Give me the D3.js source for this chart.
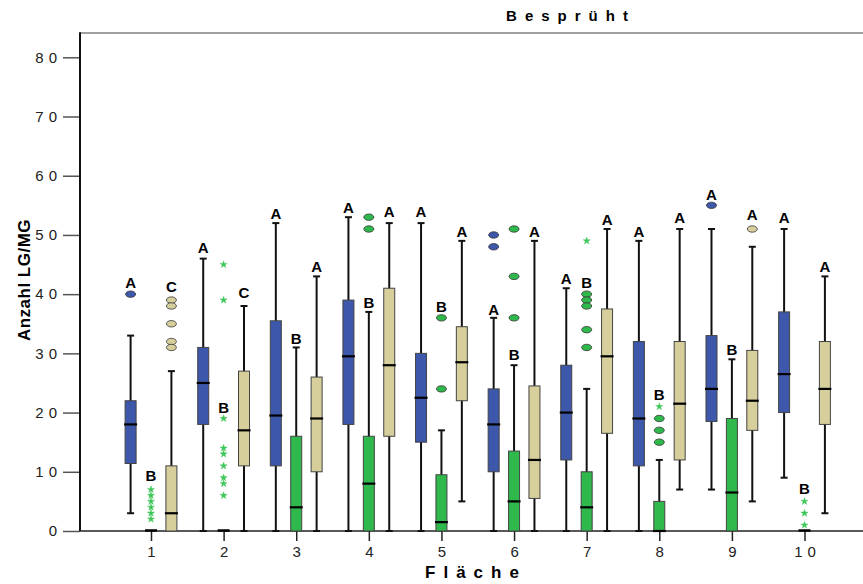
<!DOCTYPE html>
<html><head><meta charset="utf-8">
<script src="https://cdn.jsdelivr.net/npm/d3@7"></script>
<style>
html,body{margin:0;padding:0;background:#fff;}
svg{display:block;font-family:"Liberation Sans",Arial,sans-serif;}
</style></head>
<body><svg id="c" width="863" height="584"></svg>
<script>
// ---------- data ----------
const categories = ["1","2","3","4","5","6","7","8","9","10"];
const yTicks = [0,10,20,30,40,50,60,70,80];
const title = "Besprüht";
const xTitle = "Fläche";
const yTitle = "Anzahl LG/MG";
const seriesNames = ["blau","grün","beige"];
const seriesColors = ["#3d57aa","#2fb84b","#d6cf9b"];

// [lower whisker, Q1, median, Q3, upper whisker]
const blueStats = [
  [3,11.4,18,22,33],[0,18,25,31,46],[0,11,19.5,35.5,52],[0,18,29.5,39,53],[0,15,22.5,30,52],
  [0,10,18,24,36],[0,12,20,28,41],[0,11,19,32,49],[7,18.5,24,33,51],[9,20,26.5,37,51]];
const greenStats = [
  [0,0,0,0,0],[0,0,0,0,0],[0,0,4,16,31],[0,0,8,16,37],[0,0,1.5,9.5,17],
  [0,0,5,13.5,28],[0,0,4,10,24],[0,0,0,5,12],[0,0,6.5,19,29],[0,0,0,0,0]];
const tanStats = [
  [0,0,3,11,27],[0,11,17,27,38],[0,10,19,26,43],[0,16,28,41,52],[5,22,28.5,34.5,49],
  [0,5.5,12,24.5,49],[0,16.5,29.5,37.5,51],[7,12,21.5,32,51],[5,17,22,30.5,48],[3,18,24,32,43]];

// outliers (circles) and extremes (stars)
const blueOutliers  = [[40],[],[],[],[],[50,48],[],[],[55],[]];
const greenOutliers = [[],[],[],[53,51],[36,24],[51,43,36],[40,39,38,34,31],[19,17,15],[],[]];
const tanOutliers   = [[39,38,35,32,31],[],[],[],[],[],[],[],[51],[]];
const blueExtremes  = [[],[],[],[],[],[],[],[],[],[]];
const greenExtremes = [[7,6,5,4,3,2],[45,39,19,14,13,11,9,8,6],[],[],[],[],[49],[21],[],[5,3,1]];
const tanExtremes   = [[],[],[],[],[],[],[],[],[],[]];

// significance letters and the value they sit at
const blueLetters  = ["A","A","A","A","A","A","A","A","A","A"];
const greenLetters = ["B","B","B","B","B","B","B","B","B","B"];
const tanLetters   = ["C","C","A","A","A","A","A","A","A","A"];
const blueLetterAt  = [41,47,52.7,53.7,53,36.5,41.7,49.7,55.9,52];
const greenLetterAt = [8.5,20,31.6,37.7,37,28.9,41,22.1,29.7,6.2];
const tanLetterAt   = [40.4,39.3,43.8,53,49.7,49.7,51.7,52,52.5,43.8];

// ---------- build ----------
const statsBySeries = [blueStats, greenStats, tanStats];
const outBySeries = [blueOutliers, greenOutliers, tanOutliers];
const extBySeries = [blueExtremes, greenExtremes, tanExtremes];
const letBySeries = [blueLetters, greenLetters, tanLetters];
const letAtBySeries = [blueLetterAt, greenLetterAt, tanLetterAt];

const svg = d3.select("#c");
const x = d3.scalePoint().domain(categories).range([151, 804.5]);
const xs = d3.scalePoint().domain(seriesNames).range([-20.4, 20.4]);
const y = d3.scaleLinear().domain([0, 80]).range([531, 57.3]);
const yTop = y.invert(33);
const boxW = 11, capW = 7;

// frame top line
svg.append("line").attr("x1", 80).attr("x2", 863).attr("y1", y(yTop)).attr("y2", y(yTop))
  .attr("stroke", "#808080").attr("stroke-width", 1.5);

// y axis
const yAxis = svg.append("g").attr("transform", "translate(80,0)")
  .call(d3.axisLeft(y).tickValues(yTicks).tickSize(17).tickPadding(6).tickFormat(d => String(d)));
yAxis.select(".domain").remove();
yAxis.selectAll(".tick line").attr("stroke", "#555").attr("stroke-width", 1.5);
yAxis.selectAll(".tick text").attr("font-size", 15).attr("fill", "#222")
  .attr("font-family", "Liberation Sans, Arial, sans-serif").style("letter-spacing", "5px")
  .attr("dx", 5);
svg.append("line").attr("x1", 80).attr("x2", 80).attr("y1", y(yTop) - 0.75).attr("y2", y(0))
  .attr("stroke", "#111").attr("stroke-width", 2);

// x axis
const xAxis = svg.append("g").attr("transform", `translate(0,${y(0)})`)
  .call(d3.axisBottom(x).tickSize(10).tickPadding(5));
xAxis.select(".domain").remove();
xAxis.selectAll(".tick line").attr("stroke", "#222").attr("stroke-width", 1.5);
xAxis.selectAll(".tick text").attr("font-size", 15).attr("fill", "#222")
  .attr("font-family", "Liberation Sans, Arial, sans-serif").style("letter-spacing", "5px")
  .attr("dx", 2.5);
svg.append("line").attr("x1", 80).attr("x2", 863).attr("y1", y(0)).attr("y2", y(0))
  .attr("stroke", "#222").attr("stroke-width", 1.5);

// boxes
const plot = svg.append("g");
seriesNames.forEach((sn, si) => {
  const col = seriesColors[si];
  categories.forEach((cat, ci) => {
    const s = statsBySeries[si][ci];
    const cx = x(cat) + xs(sn);
    const g = plot.append("g");
    const empty = s[4] === s[0] && s[3] === s[1];
    if (!empty) {
      // whisker
      g.append("line").attr("x1", cx).attr("x2", cx).attr("y1", y(s[0])).attr("y2", y(s[4]))
        .attr("stroke", "#111").attr("stroke-width", 2);
      if (s[4] > s[3]) g.append("line").attr("x1", cx - capW/2).attr("x2", cx + capW/2)
        .attr("y1", y(s[4])).attr("y2", y(s[4])).attr("stroke", "#111").attr("stroke-width", 2);
      if (s[0] < s[1]) g.append("line").attr("x1", cx - capW/2).attr("x2", cx + capW/2)
        .attr("y1", y(s[0])).attr("y2", y(s[0])).attr("stroke", "#111").attr("stroke-width", 2);
      // box
      g.append("rect").attr("x", cx - boxW/2).attr("width", boxW)
        .attr("y", y(s[3])).attr("height", y(s[1]) - y(s[3]))
        .attr("fill", col).attr("stroke", "#444").attr("stroke-width", 1);
      // median
      g.append("line").attr("x1", cx - boxW/2 - 1).attr("x2", cx + boxW/2 + 1)
        .attr("y1", y(s[2])).attr("y2", y(s[2])).attr("stroke", "#000").attr("stroke-width", 2.2);
    } else {
      g.append("line").attr("x1", cx - boxW/2 - 0.5).attr("x2", cx + boxW/2 + 0.5)
        .attr("y1", y(s[2]) - 0.5).attr("y2", y(s[2]) - 0.5).attr("stroke", "#000").attr("stroke-width", 2.5);
    }
    // outliers
    outBySeries[si][ci].forEach(v => {
      g.append("ellipse").attr("cx", cx).attr("cy", y(v)).attr("rx", 5).attr("ry", 3.2)
        .attr("fill", col).attr("stroke", "#333").attr("stroke-width", 0.8);
    });
    // extremes
    extBySeries[si][ci].forEach(v => {
      g.append("path").attr("transform", `translate(${cx},${y(v)})`)
        .attr("d", d3.symbol().type(d3.symbolStar).size(16)())
        .attr("fill", "#3cc657").attr("stroke", "#3cc657").attr("stroke-width", 0.4);
    });
    // letter
    g.append("text").attr("x", cx).attr("y", y(letAtBySeries[si][ci]))
      .attr("text-anchor", "middle").attr("font-weight", "bold").attr("font-size", 15)
      .attr("fill", "#000").text(letBySeries[si][ci]);
  });
});

// titles
svg.append("text").attr("x", 567).attr("y", 21).attr("text-anchor", "middle")
  .attr("font-weight", "bold").attr("font-size", 15).style("letter-spacing", "8px")
  .attr("dx", 4).text(title);
svg.append("text").attr("x", 472).attr("y", 578).attr("text-anchor", "middle")
  .attr("font-weight", "bold").attr("font-size", 17).style("letter-spacing", "8px")
  .attr("dx", 4).text(xTitle);
svg.append("text").attr("transform", "translate(30,280) rotate(-90)").attr("text-anchor", "middle")
  .attr("font-weight", "bold").attr("font-size", 17).style("letter-spacing", "0.5px")
  .text(yTitle);
</script></body></html>
